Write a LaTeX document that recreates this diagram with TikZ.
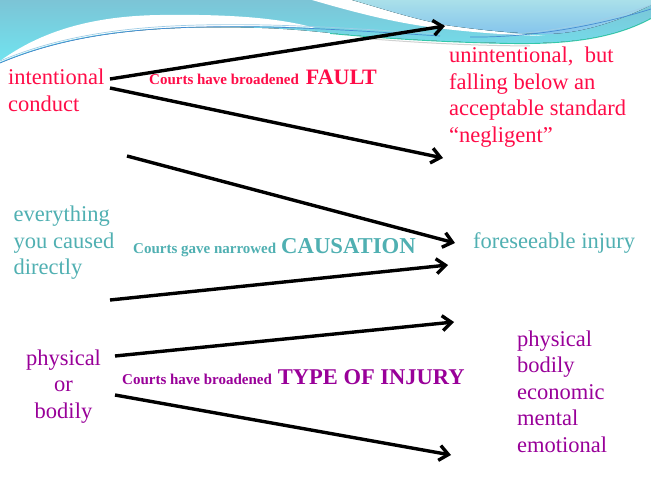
\documentclass[tikz,border=0pt]{standalone}
\usepackage{fontspec}
\setmainfont{Liberation Serif}
\usetikzlibrary{arrows.meta}
\definecolor{redt}{RGB}{255,12,72}
\definecolor{tealt}{RGB}{80,176,178}
\definecolor{purt}{RGB}{153,0,153}
\definecolor{cyT}{RGB}{124,196,214}
\definecolor{cyB}{RGB}{112,228,240}
\definecolor{rT}{RGB}{170,224,234}
\definecolor{rB}{RGB}{132,196,236}
\definecolor{blueln}{RGB}{70,140,210}
\definecolor{lblueln}{RGB}{160,205,230}
\definecolor{tealln}{RGB}{50,200,170}
\begin{document}
\begin{tikzpicture}[x=1pt,y=-1pt,
  big/.style={font=\fontsize{22.5}{26.5}\selectfont, inner sep=0pt, anchor=base west},
  lbl/.style={font=\fontsize{15}{17}\selectfont\bfseries, inner sep=0pt, anchor=base west},
  arr/.style={line width=3.4pt, -{Straight Barb[length=9pt,width=15pt]}},
  thinln/.style={line width=0.7pt}]
\fill[white] (0,0) rectangle (651,481);
\useasboundingbox (0,0) rectangle (651,481);
% decoration
\fill[top color=cyT, bottom color=cyB] (0,0) -- (651,0) -- (651,18)
  .. controls (615,38) and (570,44) .. (510,43)
  .. controls (440,42) and (380,38) .. (320,32)
  .. controls (280,28) and (250,27) .. (200,27.5)
  .. controls (110,29) and (50,42) .. (0,63) -- cycle;
\fill[white] (0,61) .. controls (40,32) and (90,16) .. (160,15)
  .. controls (230,14) and (280,18) .. (315,28)
  .. controls (280,26) and (250,26) .. (200,27)
  .. controls (110,28) and (50,41) .. (0,62) -- cycle;
\fill[white] (312,0) .. controls (360,14) and (400,24) .. (445,29)
  .. controls (480,33) and (510,35) .. (545,36)
  .. controls (510,33) and (480,30) .. (445,25)
  .. controls (410,18) and (380,8) .. (352,0) -- cycle;
\fill[top color=rT, bottom color=rB] (352,0) .. controls (380,8) and (410,18) .. (445,25)
  .. controls (480,30) and (510,33) .. (545,34)
  .. controls (585,34) and (625,18) .. (651,5) -- (651,0) -- cycle;
\draw[thinln, blueln] (0,63) .. controls (50,42) and (110,29) .. (200,27)
  .. controls (280,25) and (360,31) .. (440,36);
\draw[thinln, lblueln] (0,61) .. controls (50,40) and (110,27) .. (200,25)
  .. controls (280,23) and (360,29) .. (440,34);
\draw[thinln, blueln] (470,37) .. controls (540,38) and (610,22) .. (651,9);
\draw[thinln, lblueln] (480,35) .. controls (545,36) and (612,19) .. (651,5);
\draw[line width=0.9pt, tealln] (330,33.5) .. controls (390,39) and (450,42.5) .. (510,43.5)
  .. controls (570,44.5) and (615,38) .. (651,18.5);
\draw[line width=1pt, black!18] (360,38) .. controls (420,43) and (470,45.5) .. (530,46);
% texts
\node[big, text=redt] (intent) at (8,85) {\begin{tabular}[t]{@{}l@{}}intentional\\conduct\end{tabular}};
\node[lbl, text=redt] (fault) at (149,85) {Courts have broadened\hspace{7pt}{\fontsize{22}{26}\selectfont FAULT}};
\node[big, text=redt] (negl) at (449,63) {\begin{tabular}[t]{@{}l@{}}unintentional,\ \ but\\falling below an\\acceptable standard\\``negligent''\end{tabular}};
\node[big, text=tealt] (every) at (13.5,222) {\begin{tabular}[t]{@{}l@{}}everything\\you caused\\directly\end{tabular}};
\node[lbl, text=tealt] (caus) at (133,254) {Courts gave narrowed\hspace{5pt}{\fontsize{22.7}{26}\selectfont CAUSATION}};
\node[big, text=tealt] (fore) at (473,249) {foreseeable injury};
\node[big, anchor=base, text=purt] (phys) at (63.5,365) {\begin{tabular}[t]{@{}c@{}}physical\\or\\bodily\end{tabular}};
\node[lbl, text=purt] (type) at (122,384) {Courts have broadened\hspace{6pt}{\fontsize{22.5}{26}\selectfont TYPE OF INJURY}};
\node[big, text=purt] (list) at (517,346) {\begin{tabular}[t]{@{}l@{}}physical\\bodily\\economic\\mental\\emotional\end{tabular}};
% arrow ends
\coordinate (a1s) at (110,79);  \coordinate (a1e) at (445,26);
\coordinate (a2s) at (110,88);  \coordinate (a2e) at (443,158);
\coordinate (a3s) at (127,156); \coordinate (a3e) at (455,243);
\coordinate (a4s) at (110,300); \coordinate (a4e) at (448,265);
\coordinate (a5s) at (115,356); \coordinate (a5e) at (454,322);
\coordinate (a6s) at (115,395); \coordinate (a6e) at (451,455);
\draw[arr] (a1s) -- (a1e);
\draw[arr] (a2s) -- (a2e);
\draw[arr] (a3s) -- (a3e);
\draw[arr] (a4s) -- (a4e);
\draw[arr] (a5s) -- (a5e);
\draw[arr] (a6s) -- (a6e);
\end{tikzpicture}
\end{document}
